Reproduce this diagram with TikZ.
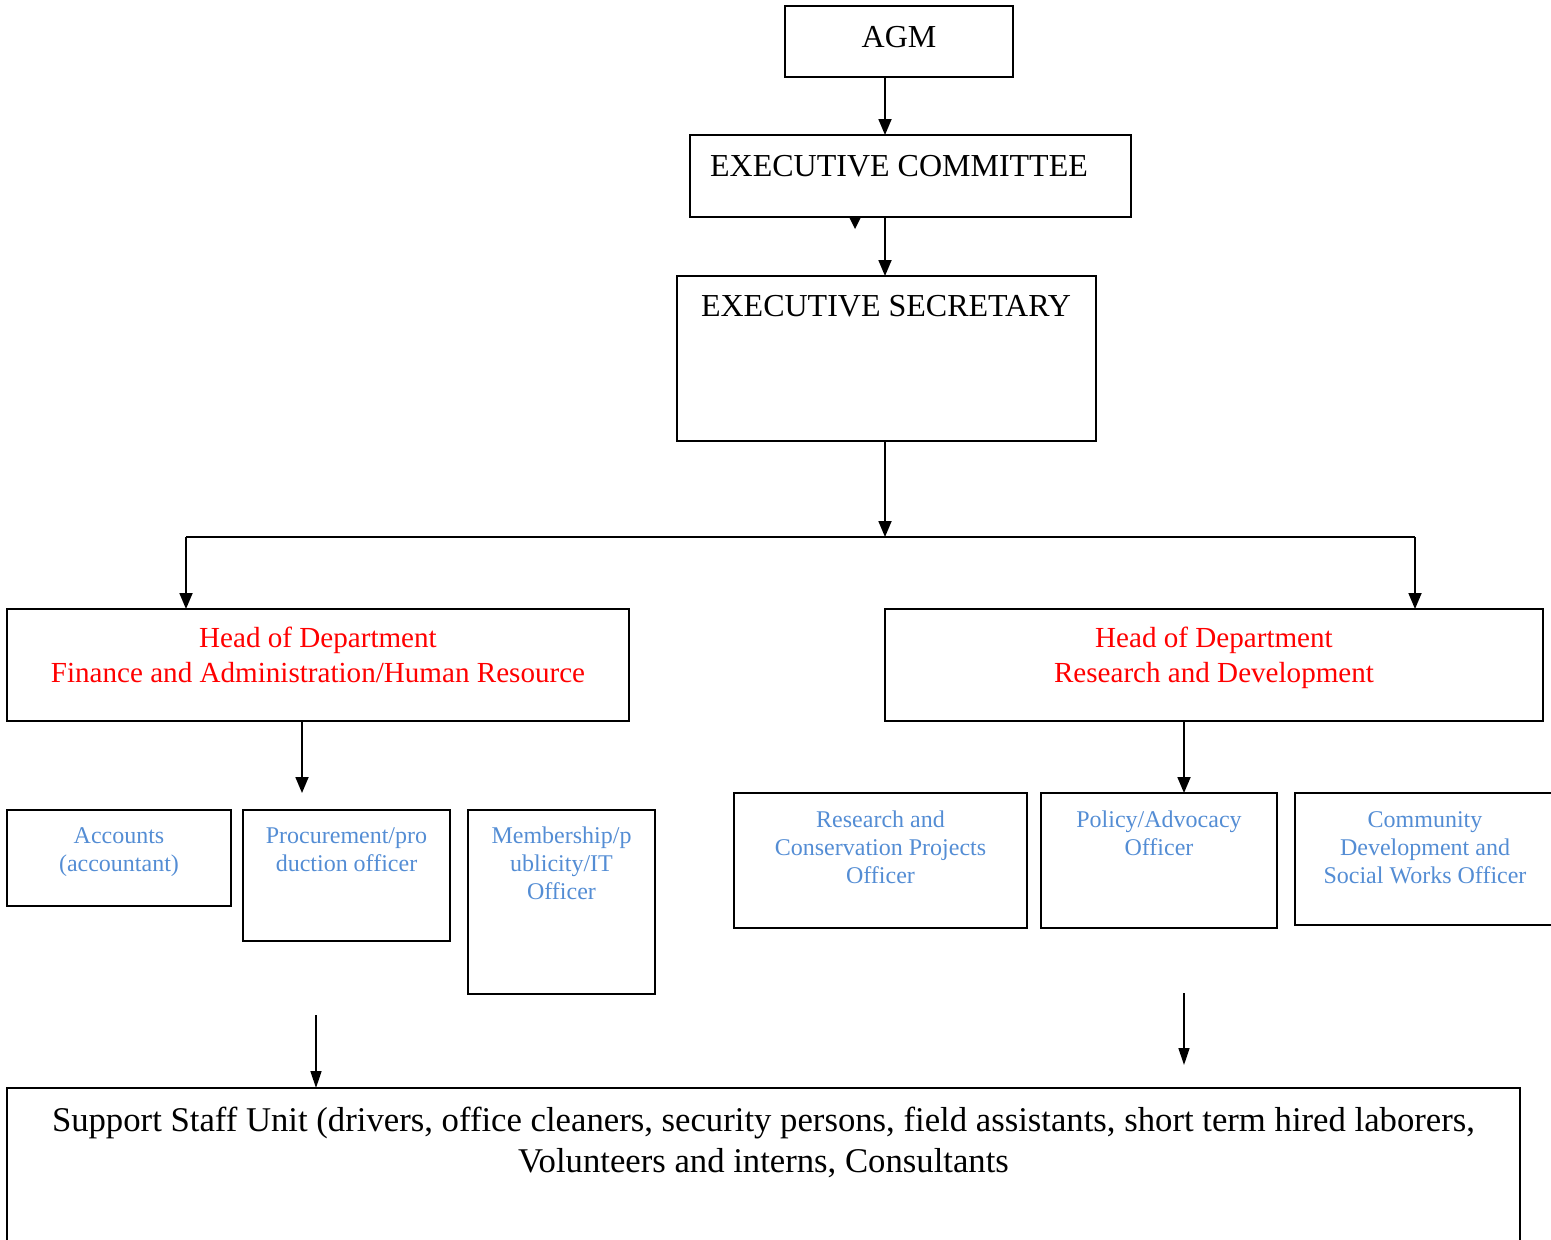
\documentclass[tikz,border=0pt]{standalone}
\usepackage{fontspec}
\setmainfont{Liberation Serif}
\usetikzlibrary{arrows.meta}
\definecolor{wblue}{RGB}{84,141,212}
\definecolor{hodred}{RGB}{255,0,0}
\begin{document}
\begin{tikzpicture}[x=1pt,y=-1pt,
  box/.style={draw,line width=1.8pt,inner sep=0pt,outer sep=0pt,rectangle},
  arr/.style={line width=1.8pt,-{Triangle[length=16pt,width=13pt]}},
  thinarr/.style={line width=1.4pt,-{Triangle[length=17pt,width=11pt]}},
  bigtxt/.style={font=\fontsize{32}{38}\selectfont,inner sep=0pt,anchor=base},
  hodtxt/.style={font=\fontsize{29.1}{35}\selectfont,text=hodred,inner sep=0pt,anchor=base,align=center},
  bluetxt/.style={font=\fontsize{24}{28}\selectfont,text=wblue,inner sep=0pt,anchor=base,align=center},
  suptxt/.style={font=\fontsize{34.7}{41}\selectfont,inner sep=0pt,anchor=base,align=center}
]
\useasboundingbox (0,0) rectangle (1551,1240);

% boxes
\node[box,minimum width=228pt,minimum height=71pt] (agm) at (899,41.5) {};
\node[box,minimum width=441pt,minimum height=82pt] (ec) at (910.5,176) {};
\node[box,minimum width=419pt,minimum height=165pt] (es) at (886.5,358.5) {};
\node[box,minimum width=622pt,minimum height=112pt] (hodF) at (318,665) {};
\node[box,minimum width=658pt,minimum height=112pt] (hodR) at (1214,665) {};
\node[box,minimum width=224pt,minimum height=96pt] (acc) at (119,858) {};
\node[box,minimum width=207pt,minimum height=131pt] (proc) at (346.5,875.5) {};
\node[box,minimum width=187pt,minimum height=184pt] (mem) at (561.5,902) {};
\node[box,minimum width=293pt,minimum height=135pt] (res) at (880.5,860.5) {};
\node[box,minimum width=236pt,minimum height=135pt] (pol) at (1159,860.5) {};
\node[box,minimum width=267pt,minimum height=132pt] (com) at (1428.5,859) {};
\node[box,minimum width=1513pt,minimum height=164pt] (sup) at (763.5,1170) {};

% texts (anchor base = baseline of the last line)
\node[bigtxt] (agmT) at (899,47) {AGM};
\node[bigtxt] (ecT) at (899,176) {EXECUTIVE COMMITTEE};
\node[bigtxt] (esT) at (886,316) {EXECUTIVE SECRETARY};
\node[hodtxt] (hodFT) at (318,682) {Head of Department\\Finance and Administration/Human Resource};
\node[hodtxt] (hodRT) at (1214,682) {Head of Department\\Research and Development};
\node[bluetxt] (accT) at (119,871) {Accounts\\(accountant)};
\node[bluetxt] (procT) at (346.5,871) {Procurement/pro\\duction officer};
\node[bluetxt] (memT) at (561.5,899) {Membership/p\\ublicity/IT\\Officer};
\node[bluetxt] (resT) at (880.5,883) {Research and\\Conservation Projects\\Officer};
\node[bluetxt] (polT) at (1159,855) {Policy/Advocacy\\Officer};
\node[bluetxt] (comT) at (1425,883) {Community\\Development and\\Social Works Officer};
\node[suptxt] (supT) at (763.5,1172) {Support Staff Unit (drivers, office cleaners, security persons, field assistants, short term hired laborers,\\Volunteers and interns, Consultants};

% connectors
\coordinate (xa) at (885,0);
\draw[arr] (xa |- agm.south) -- (xa |- ec.north);
\draw[arr] (xa |- ec.south) -- (xa |- es.north);
\coordinate (split) at (885,537);
\draw[arr] (xa |- es.south) -- (split);
\coordinate (hl) at (186,537);
\coordinate (hr) at (1415,537);
\draw[line width=1.8pt] (hl) -- (hr);
\draw[arr] (hl) -- (hl |- hodF.north);
\draw[arr] (hr) -- (hr |- hodR.north);
\coordinate (fa) at (302,0);
\coordinate (finEnd) at (302,793);
\draw[arr] (fa |- hodF.south) -- (finEnd);
\coordinate (ra) at (1184,0);
\draw[arr] (ra |- hodR.south) -- (ra |- pol.north);
\coordinate (b1) at (316,1015);
\draw[thinarr] (b1) -- (b1 |- sup.north);
\coordinate (b2) at (1184,993);
\coordinate (b2e) at (1184,1065);
\draw[thinarr] (b2) -- (b2e);

% stray arrowhead below executive committee box
\fill (849.5,218) -- (860.5,218) -- (855,229) -- cycle;
\end{tikzpicture}
\end{document}
